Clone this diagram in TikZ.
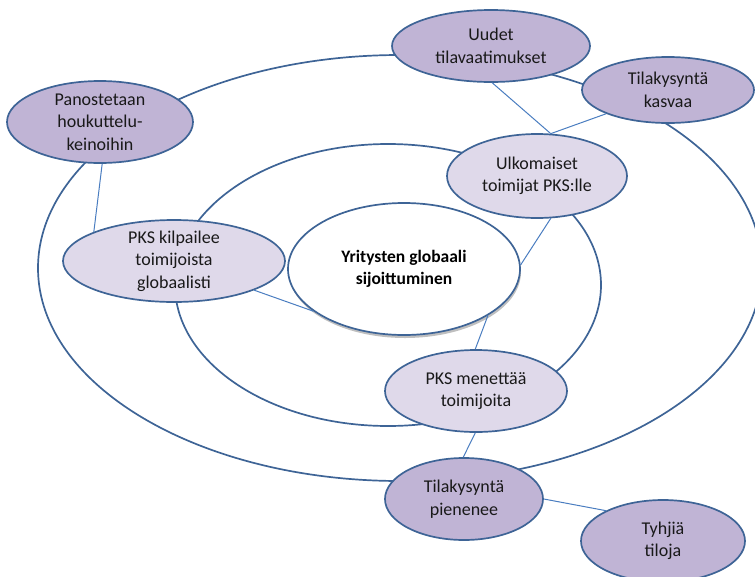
\documentclass[tikz,border=0pt]{standalone}
\usepackage{fontspec}
\setmainfont{Carlito}
\usetikzlibrary{shapes.geometric}
\definecolor{ringblue}{HTML}{3E6496}
\definecolor{linkblue}{HTML}{4A7DC0}
\definecolor{deepfill}{HTML}{C0B4D5}
\definecolor{palefill}{HTML}{DFD9EA}
\begin{document}
\begin{tikzpicture}[x=1pt,y=-1pt,
  ring/.style={draw=ringblue,line width=1.7pt},
  bubble/.style={ellipse,draw=ringblue,line width=1.7pt,inner sep=0pt},
  outerbub/.style={bubble,fill=deepfill},
  innerbub/.style={bubble,fill=palefill},
  txt/.style={font=\fontsize{18}{22.5}\selectfont,align=center,text=black!90},
  boldtxt/.style={txt,font=\fontsize{17.5}{22.5}\selectfont\bfseries,text=black},
  link/.style={draw=linkblue,line width=1pt}]
\useasboundingbox (0,0) rectangle (755,576);

% the two rings
\draw[ring] (400,268) ellipse [x radius=362, y radius=213];
\draw[ring] (388,285) ellipse [x radius=213, y radius=141];

% central topic with its soft shadow
\fill[gray!50] (405,272) ellipse [x radius=116, y radius=66];
\node[bubble, fill=white, minimum width=232pt, minimum height=132pt,
  label={[boldtxt]center:Yritysten globaali\\sijoittuminen}] (core) at (404,269) {};

% outer ring topics
\node[outerbub, minimum width=186pt, minimum height=82pt,
  label={[txt]center:Panostetaan\\houkuttelu-\\keinoihin}] (pan) at (100,122) {};
\node[outerbub, minimum width=198pt, minimum height=72pt,
  label={[txt]center:Uudet\\tilavaatimukset}] (uud) at (491,46) {};
\node[outerbub, minimum width=172pt, minimum height=66pt,
  label={[txt]center:Tilakysyntä\\kasvaa}] (kas) at (668,90) {};
\node[outerbub, minimum width=158pt, minimum height=82pt,
  label={[txt]center:Tilakysyntä\\pienenee}] (pie) at (464,499) {};
\node[outerbub, minimum width=164pt, minimum height=82pt,
  label={[txt]center:Tyhjiä\\tiloja}] (tyh) at (663,541) {};

% inner ring topics
\node[innerbub, minimum width=180pt, minimum height=84pt,
  label={[txt]center:Ulkomaiset\\toimijat PKS:lle}] (ulk) at (537,176) {};
\node[innerbub, minimum width=222pt, minimum height=82pt,
  label={[txt]center:PKS kilpailee\\toimijoista\\globaalisti}] (kil) at (174,261) {};
\node[innerbub, minimum width=182pt, minimum height=82pt,
  label={[txt]center:PKS menettää\\toimijoita}] (men) at (476,391) {};

% links between topics
\draw[link] (pan.-87) -- (kil.160);
\draw[link] (uud.-88) -- (ulk.72);
\draw[link] (kas.-159) -- (ulk.72);
\draw[link] (ulk.-72) -- (core.2);
\draw[link] (kil.-20) -- (core.-155);
\draw[link] (core.-29) -- (men.91);
\draw[link] (men.-91) -- (pie.91);
\draw[link] (pie.0) -- (tyh.152);
\end{tikzpicture}
\end{document}
